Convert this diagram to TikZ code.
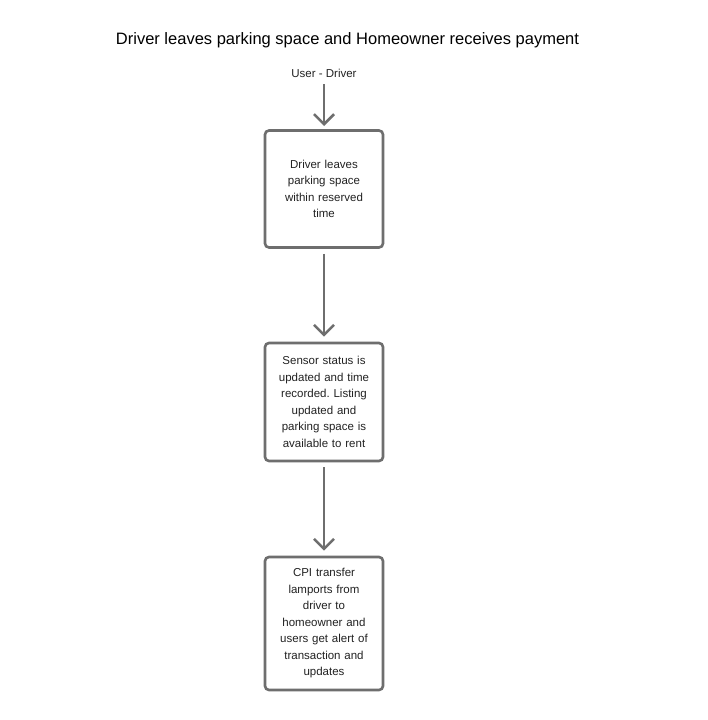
\documentclass[tikz,border=0pt]{standalone}
\usepackage{fontspec}
\setmainfont{Liberation Sans}
\usetikzlibrary{arrows.meta}
\definecolor{linegray}{HTML}{6E6E6E}
\definecolor{txt}{HTML}{222222}
\frenchspacing
\tikzset{
  stepbox/.style={draw=linegray, line width=2.6pt, rounded corners=4pt, fill=white,
    minimum width=118pt, text width=110pt, align=center, inner sep=0pt,
    font=\fontsize{11.5}{16.5}\selectfont, text=txt},
  flow/.style={draw=linegray, line width=2.6pt,
    -{Straight Barb[length=10pt,width=20pt,line width=2.6pt]}}
}
\begin{document}
\begin{tikzpicture}[x=1pt,y=-1pt]
\useasboundingbox[fill=white] (0,0) rectangle (707,720);
\node[font=\fontsize{16.5}{20}\selectfont, text=black] (title) at (347.5,40) {Driver leaves parking space and Homeowner receives payment};
\node[font=\fontsize{11.5}{14}\selectfont, text=txt, inner sep=1pt] (user) at (324,73) {User - Driver};
\node[stepbox, minimum height=117pt] (b1) at (324,189) {Driver leaves\\parking space\\within reserved\\time};
\node[stepbox, minimum height=118pt] (b2) at (324,402) {Sensor status is\\updated and time\\recorded. Listing\\updated and\\parking space is\\available to rent};
\node[stepbox, minimum height=133pt] (b3) at (324,623.5) {CPI transfer\\lamports from\\driver to\\homeowner and\\users get alert of\\transaction and\\updates};
\coordinate (u0) at (324,84);
\coordinate (u1) at (324,126);
\draw[flow] (u0) -- (u1);
\draw[flow] ([yshift=-5pt]b1.south) -- ([yshift=5pt]b2.north);
\draw[flow] ([yshift=-5pt]b2.south) -- ([yshift=5pt]b3.north);
\end{tikzpicture}
\end{document}
